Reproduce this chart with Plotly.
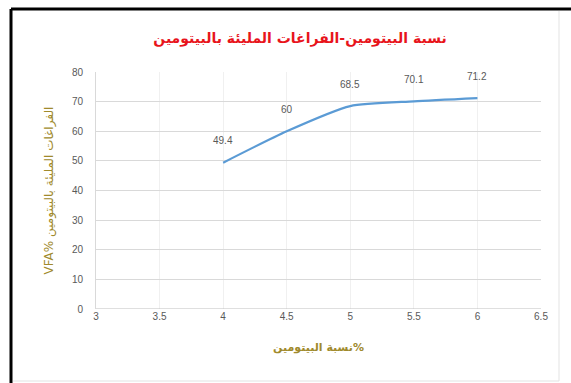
import plotly.graph_objects as go

# Bitumen content (%) vs voids filled with bitumen (VFA %)
bitumen_pct = [4, 4.5, 5, 5.5, 6]
vfa_pct = [49.4, 60, 68.5, 70.1, 71.2]
x_ticks = [3, 3.5, 4, 4.5, 5, 5.5, 6, 6.5]
y_ticks = [0, 10, 20, 30, 40, 50, 60, 70, 80]

W, H = 571, 383
L, R, T, B = 96, 30, 72, 74

fig = go.Figure()
fig.add_trace(go.Scatter(
    x=bitumen_pct, y=vfa_pct, mode="lines",
    line=dict(color="#5b9bd5", width=2.2, shape="spline", smoothing=0.6),
    hoverinfo="x+y", showlegend=False,
))

for xv, yv in zip(bitumen_pct, vfa_pct):
    fig.add_annotation(x=xv, y=yv, text=f"{yv:g}", showarrow=False,
                       yshift=22, font=dict(size=10, color="#595959",
                                            family="Liberation Sans"))

def px_x(p):
    return (p - L) / (W - L - R)

def px_y(p):
    return 1 - (p - T) / (H - T - B)

# frame around the chart
fig.add_shape(type="line", xref="paper", yref="paper",
              x0=px_x(11), x1=px_x(571), y0=px_y(9), y1=px_y(9),
              line=dict(color="black", width=3))
fig.add_shape(type="line", xref="paper", yref="paper",
              x0=px_x(11), x1=px_x(11), y0=px_y(9), y1=px_y(383),
              line=dict(color="black", width=3))
fig.add_shape(type="line", xref="paper", yref="paper",
              x0=px_x(559), x1=px_x(559), y0=px_y(11), y1=px_y(381),
              line=dict(color="#e3e3e3", width=1))
fig.add_shape(type="line", xref="paper", yref="paper",
              x0=px_x(13), x1=px_x(559), y0=px_y(381), y1=px_y(381),
              line=dict(color="#e3e3e3", width=1))

fig.update_layout(
    width=W, height=H,
    margin=dict(l=L, r=R, t=T, b=B),
    paper_bgcolor="white", plot_bgcolor="white",
    title=dict(text="<b>نسبة البيتومين-الفراغات المليئة بالبيتومين</b>",
               x=300 / W, xanchor="center", y=1 - 38 / H, yanchor="middle",
               font=dict(size=14, color="#e8141b", family="DejaVu Sans")),
    xaxis=dict(range=[3, 6.5], tickvals=x_ticks, ticktext=[f"{v:g}" for v in x_ticks],
               showgrid=True, gridcolor="#f0f0f0", gridwidth=1,
               zeroline=False, showline=False, ticks="",
               tickfont=dict(size=10, color="#595959", family="Liberation Sans"),
               title=dict(text="<b>نسبة البيتومين%</b>", standoff=22,
                          font=dict(size=11, color="#a08a2c", family="DejaVu Sans"))),
    yaxis=dict(range=[0, 80], tickvals=y_ticks,
               showgrid=True, gridcolor="#d9d9d9", gridwidth=1,
               zeroline=False, showline=True, linecolor="#d9d9d9", ticks="",
               ticklabelstandoff=10,
               tickfont=dict(size=10, color="#595959", family="Liberation Sans"),
               title=dict(text="VFA% الفراغات المليئة بالبيتومين", standoff=15,
                          font=dict(size=12, color="#a08a2c", family="DejaVu Sans"))),
)
# x=0 baseline
fig.add_shape(type="line", xref="paper", yref="y", x0=0, x1=1, y0=0, y1=0,
              line=dict(color="#bfbfbf", width=1))

fig.write_html("out.html")
